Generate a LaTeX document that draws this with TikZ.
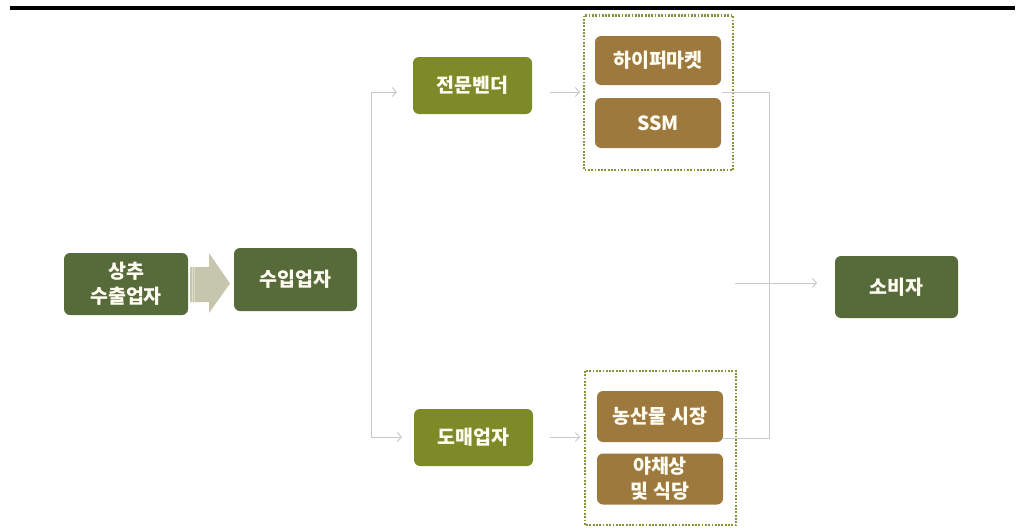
\documentclass[tikz,border=0pt]{standalone}
\usepackage{fontspec}
\newfontfamily\kr{Noto Sans CJK KR}
\usetikzlibrary{arrows.meta}
\definecolor{dkgreen}{HTML}{566A3A}
\definecolor{olive}{HTML}{7C8B28}
\definecolor{brownbox}{HTML}{9E793E}
\definecolor{dotcol}{HTML}{84943A}
\definecolor{linegrey}{HTML}{C8C8C8}
\definecolor{bigarrow}{HTML}{C6C6AF}
\definecolor{stripe}{HTML}{DCDCCB}
\definecolor{txt}{HTML}{FFFDF2}
\tikzset{
  box/.style={rounded corners=6pt, text=txt, align=center, inner sep=0pt,
    font=\kr\bfseries\fontsize{19.5}{25}\selectfont},
  darkbox/.style={box, fill=dkgreen, minimum width=123pt, minimum height=62pt},
  olivebox/.style={box, fill=olive, minimum width=119pt, minimum height=57pt},
  brownnode/.style={box, fill=brownbox, minimum width=126pt, minimum height=50pt},
  group/.style={draw=dotcol, line width=2.4pt, dash pattern=on 1.8pt off 1.5pt},
  conn/.style={draw=linegrey, line width=0.9pt},
  arr/.style={conn, -{Straight Barb[length=4pt,width=9pt]}}
}
\begin{document}
\begin{tikzpicture}[x=1pt,y=-1pt]
\useasboundingbox (0,0) rectangle (1020,530);
% top rule
\draw[line width=3.6pt] (10,8) -- (1015,8);
% dotted groups
\draw[group] (584,15.5) rectangle (733,170);
\draw[group] (585,371) rectangle (736,525);
% nodes
\node[darkbox, minimum width=124pt] (exp) at (126,284) {상추\\수출업자};
\node[darkbox, minimum height=63pt] (imp) at (295.5,279.5) {수입업자};
\node[olivebox] (spec) at (472.5,85.5) {전문벤더};
\node[olivebox] (whole) at (473.5,437.5) {도매업자};
\node[brownnode, minimum height=49pt] (hyper) at (658,60.5) {하이퍼마켓};
\node[brownnode] (ssm) at (658,123) {SSM};
\node[brownnode, minimum height=51pt] (nong) at (660,416.5) {농산물 시장};
\node[brownnode, minimum height=51pt] (yach) at (660,479) {야채상\\및 식당};
\node[darkbox] (cons) at (896.5,287) {소비자};
% big striped arrow
\fill[bigarrow] (190,267) -- (209,267) -- (209,253) -- (230,283.5) -- (209,313) -- (209,302) -- (190,302) -- cycle;
\draw[stripe, line width=0.8pt] (192,267) -- (192,302);
\draw[stripe, line width=0.8pt] (194.5,267) -- (194.5,302);
% connectors
\coordinate (vt) at (371,92);
\coordinate (vb) at (371,437);
\coordinate (vtend) at (397,92);
\coordinate (vbend) at (402,437);
\draw[conn] (vb) -- (vt);
\draw[arr] (vt) -- (vtend);
\draw[arr] (vb) -- (vbend);
\coordinate (s1) at (550,92);
\coordinate (s2) at (580,92);
\coordinate (w1) at (550,437);
\coordinate (w2) at (580,437);
\draw[arr] (s1) -- (s2);
\draw[arr] (w1) -- (w2);
\coordinate (r1) at (722,92);
\coordinate (r2) at (769,92);
\coordinate (r3) at (769,438);
\coordinate (r4) at (723,438);
\draw[conn] (r1) -- (r2) -- (r3) -- (r4);
\coordinate (c1) at (735,283);
\coordinate (c2) at (817,283);
\draw[arr] (c1) -- (c2);
\end{tikzpicture}
\end{document}
